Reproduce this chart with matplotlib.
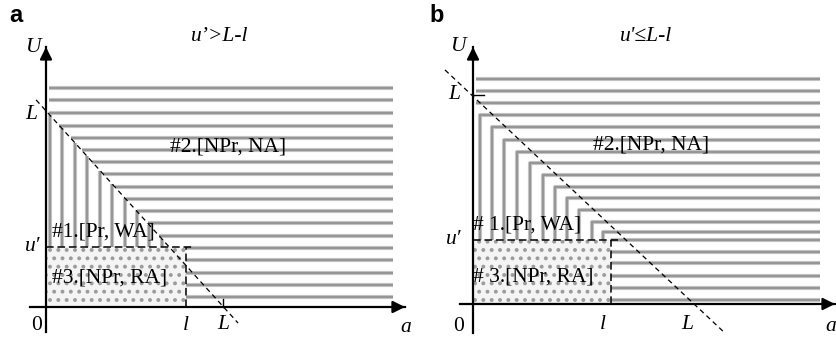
import numpy as np
import matplotlib
matplotlib.use("Agg")
import matplotlib.pyplot as plt
from matplotlib.patches import Rectangle

plt.rcParams['font.family'] = ['Liberation Serif', 'DejaVu Serif']
plt.rcParams['hatch.linewidth'] = 1.6

# ---- panel a : u' > L-l  (L = 1 on both axes) ----
a_l = 0.79
a_u = 0.311
a_levels = [1.135, 1.07, 1.005, 0.94, 0.876, 0.813, 0.751, 0.689, 0.622, 0.560,
            0.497, 0.435, 0.368, 0.306, 0.244, 0.178, 0.114, 0.052]
a_vert = [0.023, 0.09, 0.164, 0.232, 0.305, 0.373, 0.446, 0.514, 0.582, 0.655]
a_diag_x = [-0.056, 1.085]
a_diag_y = [1.073, -0.083]
a_right = 1.96

# ---- panel b : u' <= L-l ----
b_l = 0.636
b_u = 0.302
b_top = [1.061, 1.005, 0.948]
b_corner_x = [0.032, 0.086, 0.143, 0.201, 0.263, 0.323, 0.378, 0.432, 0.488, 0.547, 0.598]
b_corner_y = [0.892, 0.836, 0.774, 0.719, 0.665, 0.608, 0.553, 0.500, 0.443, 0.388, 0.341]
b_low = [0.302, 0.245, 0.193, 0.132, 0.075, 0.019]
b_diag_x = [-0.129, 1.161]
b_diag_y = [1.104, -0.137]
b_right = 1.60

GREY = '#969696'
HALO = '#cdcdcd'
FS = 15.5


def grey(ax, xs, ys):
    ax.plot(xs, ys, color=HALO, lw=3.0, solid_capstyle='butt', zorder=2)
    ax.plot(xs, ys, color=GREY, lw=1.7, solid_capstyle='butt', zorder=2.1)


def diag_x_at(u, dx, dy):
    return np.interp(u, dy[::-1], dx[::-1])


def diag_y_at(x, dx, dy):
    return np.interp(x, dx, dy)


def frame(ax, x0, xtip, y0, ytip):
    ax.plot([x0, xtip], [0, 0], color='k', lw=1.6, zorder=4)
    ax.plot([0, 0], [y0, ytip], color='k', lw=1.6, zorder=4)
    arrow = dict(arrowstyle='-|>', color='k', lw=1.6, mutation_scale=18,
                 shrinkA=0, shrinkB=0)
    ax.annotate('', xy=(xtip, 0), xytext=(xtip - 0.05, 0), arrowprops=arrow, zorder=5)
    ax.annotate('', xy=(0, ytip), xytext=(0, ytip - 0.05), arrowprops=arrow, zorder=5)


def dotted(ax, l, u):
    ax.add_patch(Rectangle((0, 0), l, u, facecolor='#f4f4f4', edgecolor='#9c9c9c',
                           hatch='..', lw=0, zorder=1))


def dashes(ax, l, u, ext):
    ax.plot([0, l + ext], [u, u], color='k', lw=1.1, dashes=(5, 2.5), zorder=3)
    ax.plot([l, l], [0, u], color='k', lw=1.1, dashes=(5, 2.5), zorder=3)


fig = plt.figure(figsize=(8.37, 3.38), dpi=100)
ax_a = fig.add_axes([0, 0, 418 / 837, 1])
ax_b = fig.add_axes([418 / 837, 0, 419 / 837, 1])
ax_a.set_xlim(-0.2599, 2.1017)
ax_a.set_ylim(-0.1606, 1.5907)
ax_b.set_xlim(-0.2535, 1.6774)
ax_b.set_ylim(-0.1604, 1.434)
for ax in (ax_a, ax_b):
    ax.set_axis_off()

# ---------- panel a ----------
ax = ax_a
dotted(ax, a_l, a_u)
for u in a_levels:
    if u > 0.99:
        start = 0.017
    elif u > a_u:
        start = diag_x_at(u, a_diag_x, a_diag_y)
    else:
        start = a_l
    grey(ax, [start, a_right], [u, u])
for x in a_vert:
    top = diag_y_at(x, a_diag_x, a_diag_y)
    if top > a_u:
        grey(ax, [x, x], [a_u, top])
dashes(ax, a_l, a_u, 0.05)
ax.plot(a_diag_x, a_diag_y, color='k', lw=0.9, dashes=(4, 3), zorder=3)
ax.plot([1.0, 1.0], [0, 0.04], color='k', lw=1.0, zorder=4)
frame(ax, -0.09, 2.028, -0.13, 1.347)

ax.text(-0.076, 1.347, 'U', style='italic', fontsize=FS, ha='center', va='center')
ax.text(-0.085, 1.0, 'L', style='italic', fontsize=FS, ha='center', va='center')
ax.text(-0.073, a_u, 'u\u2032', style='italic', fontsize=FS, ha='center', va='center')
ax.text(-0.051, -0.098, '0', fontsize=FS, ha='center', va='center')
ax.text(a_l, -0.098, 'l', style='italic', fontsize=FS, ha='center', va='center')
ax.text(1.0, -0.092, 'L', style='italic', fontsize=FS, ha='center', va='center')
ax.text(2.034, -0.104, 'a', style='italic', fontsize=FS, ha='center', va='center')
ax.text(0.983, 1.404, 'u\u2019>L-l', style='italic', fontsize=FS, ha='center', va='center')
ax.text(0.70, 0.829, '#2.[NPr, NA]', fontsize=FS, ha='left', va='center', zorder=5)
ax.text(0.034, 0.389, '#1.[Pr, WA]', fontsize=FS, ha='left', va='center', zorder=5)
ax.text(0.034, 0.150, '#3.[NPr, RA]', fontsize=FS, ha='left', va='center', zorder=5)

# ---------- panel b ----------
ax = ax_b
dotted(ax, b_l, b_u)
for u in b_top:
    grey(ax, [0.014, b_right], [u, u])
for x, u in zip(b_corner_x, b_corner_y):
    grey(ax, [x, x, b_right], [b_u, u, u])
for u in b_low:
    grey(ax, [b_l, b_right], [u, u])
dashes(ax, b_l, b_u, 0.03)
ax.plot(b_diag_x, b_diag_y, color='k', lw=0.9, dashes=(4, 3), zorder=3)
ax.plot([0, 0.05], [0.986, 0.986], color='k', lw=1.0, zorder=4)
frame(ax, -0.06, 1.668, -0.137, 1.212)

ax.text(-0.069, 1.217, 'U', style='italic', fontsize=FS, ha='center', va='center')
ax.text(-0.088, 0.986, 'L', style='italic', fontsize=FS, ha='center', va='center')
ax.text(-0.088, b_u, 'u\u2032', style='italic', fontsize=FS, ha='center', va='center')
ax.text(-0.065, -0.104, '0', fontsize=FS, ha='center', va='center')
ax.text(0.599, -0.099, 'l', style='italic', fontsize=FS, ha='center', va='center')
ax.text(0.986, -0.099, 'L', style='italic', fontsize=FS, ha='center', va='center')
ax.text(1.648, -0.104, 'a', style='italic', fontsize=FS, ha='center', va='center')
ax.text(0.797, 1.264, "u'\u2264L-l", style='italic', fontsize=FS, ha='center', va='center')
ax.text(0.553, 0.75, '#2.[NPr, NA]', fontsize=FS, ha='left', va='center', zorder=5)
ax.text(0.0, 0.373, '# 1.[Pr, WA]', fontsize=FS, ha='left', va='center', zorder=5)
ax.text(0.0, 0.127, '# 3.[NPr, RA]', fontsize=FS, ha='left', va='center', zorder=5)

fig.text(16 / 837, 1 - 16 / 338, 'a', family='Liberation Sans', weight='bold',
         fontsize=17, ha='center', va='center')
fig.text(437 / 837, 1 - 16 / 338, 'b', family='Liberation Sans', weight='bold',
         fontsize=17, ha='center', va='center')

fig.savefig('out.png', dpi=100)
